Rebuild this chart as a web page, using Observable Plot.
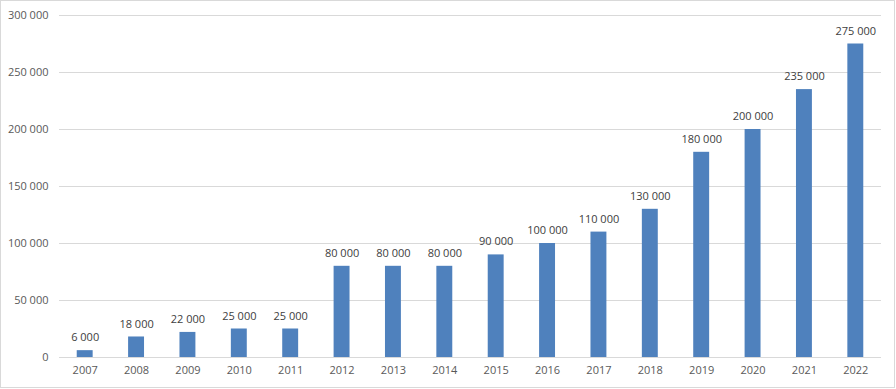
<!DOCTYPE html>
<html>
<head>
<meta charset="utf-8">
<script src="https://cdn.jsdelivr.net/npm/d3@7"></script>
<script src="https://cdn.jsdelivr.net/npm/@observablehq/plot@0.6"></script>
<style>
  html, body { margin: 0; padding: 0; background: #fff; }
  #chart { width: 896px; height: 389px; position: relative; }
  #chart svg { display: block; }
</style>
</head>
<body>
<div id="chart"></div>
<script>
const years = ["2007","2008","2009","2010","2011","2012","2013","2014","2015","2016","2017","2018","2019","2020","2021","2022"];
const values = [6000,18000,22000,25000,25000,80000,80000,80000,90000,100000,110000,130000,180000,200000,235000,275000];
const yTicks = [0,50000,100000,150000,200000,250000,300000];

const data = years.map((y, i) => ({year: y, value: values[i]}));
const fmt = v => d3.format(",")(v).replace(/,/g, " ");

const W = 896, H = 389;
const plot = Plot.plot({
  width: W,
  height: H,
  marginTop: 15,
  marginBottom: 32,
  marginLeft: 59,
  marginRight: 15,
  style: {fontFamily: "'Open Sans', 'Liberation Sans', sans-serif", fontSize: "11px", color: "#595959", background: "#fff"},
  x: {domain: years, paddingInner: 0.69, paddingOuter: 0.345, round: false, label: null, tickSize: 0, tickPadding: 9},
  y: {domain: [0, 300000], ticks: yTicks, label: null, tickSize: 0, tickPadding: 11, tickFormat: fmt},
  marks: [
    Plot.gridY(yTicks, {stroke: "#d9d9d9", strokeOpacity: 1, strokeWidth: 1}),
    Plot.barY(data, {x: "year", y: "value", fill: "#4f81bd"}),
    Plot.text(data, {x: "year", y: "value", text: d => fmt(d.value), dy: -13, fill: "#404040", fontSize: 11}),
    Plot.axisX({tickSize: 0, tickPadding: 9, fill: "#595959"}),
    Plot.axisY({ticks: yTicks, tickSize: 0, tickPadding: 11, tickFormat: fmt, fill: "#595959"})
  ]
});
document.getElementById("chart").appendChild(plot);
// chart border
const svg = d3.select(plot);
svg.append("rect").attr("x", 0.5).attr("y", 0.5).attr("width", W - 2).attr("height", H - 2)
  .attr("fill", "none").attr("stroke", "#d9d9d9");
</script>
</body>
</html>
